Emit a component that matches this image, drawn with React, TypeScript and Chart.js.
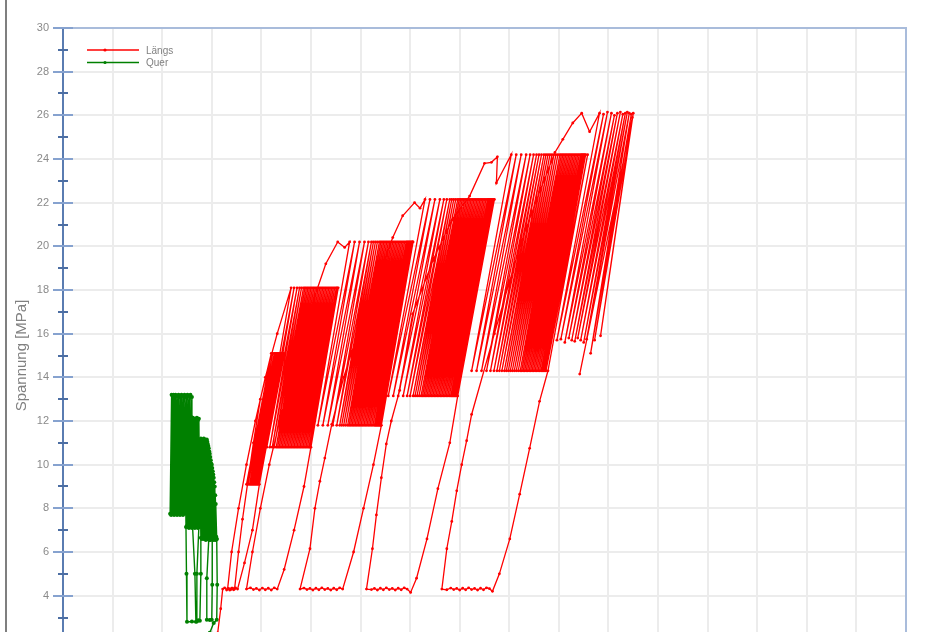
import React, { useEffect, useRef } from 'react';
import { Chart, registerables } from 'chart.js';

Chart.register(...registerables);

type P = [number, number];

// ---------- axes ----------
const dehnungMin = -150;
const dehnungMax = 700;
const dehnungStep = 50;
const spannungMin = 0;
const spannungMax = 30;
const spannungTicks = [0, 1, 2, 3, 4, 5, 6, 7, 8, 9, 10, 11, 12, 13, 14, 15, 16, 17, 18, 19, 20, 21, 22, 23, 24, 25, 26, 27, 28, 29, 30];
const yTitel = 'Spannung [MPa]';
const serienNamen = ['Längs', 'Quer'];

// ---------- Längs (red) ----------
const l0: P[] = [[0, 0], [3, 1.2], [6, 2.3], [9, 3.4], [11, 4.3], [13, 4.36], [15, 4.26], [17, 4.33], [19, 4.27], [21, 4.35], [23, 4.3], [27, 6], [31, 7.5], [36, 9.1], [42, 11], [49, 13]];
const b1aHoch = [60, 61.5, 63, 64, 65, 66, 67, 68, 69, 70, 71, 72, 72.5];
const b1aTief = [35, 36.5, 38, 39, 40, 41, 42, 43, 44, 45, 46, 47, 48];
const b1aOber = 15.1;
const b1aUnter = 9.1;

const l1: P[] = [[41, 7], [33, 5.5], [26, 4.3], [24, 4.36], [22, 4.27], [20, 4.34], [18, 4.26], [16, 4.32], [20, 6], [27, 8], [35, 10], [44, 12], [54, 14], [66, 16]];
const b1bHoch = [80, 83, 86, 88.5, 90.5, 92.5, 94, 95.5, 97, 98.5, 100, 101.5, 103, 104.5, 106, 107.5, 109, 110.5, 112, 113.5, 115, 116.5, 118, 119.5, 121, 122.5, 124, 125.5, 126.5, 127.5];
const b1bTief = [52.5, 55.5, 58.5, 61, 63, 65, 66.5, 68, 69.5, 71, 72.5, 74, 75.5, 77, 78.5, 80, 81.5, 83, 84.5, 86, 87.5, 89, 90.5, 92, 93.5, 95, 96.5, 98, 99, 100];
const b1bOber = 18.1;
const b1bUnter = 10.8;

const l2: P[] = [[93, 9], [83, 7], [73, 5.2], [66, 4.3], [63, 4.36], [60, 4.26], [57, 4.34], [54, 4.27], [51, 4.35], [48, 4.26], [45, 4.33], [42, 4.28], [39, 4.36], [35, 4.3], [41, 6], [49, 8], [58, 10], [68.5, 12], [79.5, 14], [92, 16], [106, 18], [115, 19.2], [127, 20.2], [134, 19.95]];
const b2Hoch = [139, 144, 149, 154, 158, 161, 163, 165, 167, 169, 170.5, 172, 173.5, 175, 176.5, 178, 179.5, 181, 182.5, 184, 185.5, 187, 188.5, 190, 191.5, 193, 194.5, 196, 197, 198, 199, 200, 201, 202, 202.5, 203];
const b2Tief = [107, 112, 117, 122, 126, 129, 131, 133, 135, 137, 138.5, 140, 141.5, 143, 144.5, 146, 147.5, 149, 150.5, 152, 153.5, 155, 156.5, 158, 159.5, 161, 162.5, 164, 165, 166, 167, 168, 169, 170, 170.5, 171];
const b2Ober = 20.2;
const b2Unter = 11.8;

const l3: P[] = [[163, 10], [153, 8], [143, 6], [132, 4.3], [129, 4.36], [126, 4.27], [123, 4.34], [120, 4.26], [117, 4.33], [114, 4.28], [111, 4.36], [108, 4.27], [105, 4.34], [102, 4.26], [99, 4.33], [96, 4.28], [93, 4.35], [89, 4.3], [99, 6.15], [104, 8.0], [109, 9.24], [114, 10.3], [121, 11.85], [133, 14], [147, 16], [163, 18], [182.5, 20.4], [192.5, 21.4], [204.5, 22.0], [210, 21.75]];
const b3Hoch = [215, 220, 225, 230, 234, 237, 240, 242, 244, 246, 248, 249.5, 251, 252.5, 254, 255.5, 257, 258.5, 260, 261.5, 263, 264.5, 266, 267.5, 269, 270.5, 272, 273.5, 275, 276.5, 278, 279, 280, 281, 282, 283, 284, 285];
const b3Tief = [178, 183, 188, 193, 197, 200, 203, 205, 207, 209, 211, 212.5, 214, 215.5, 217, 218.5, 220, 221.5, 223, 224.5, 226, 227.5, 229, 230.5, 232, 233.5, 235, 236.5, 238, 239.5, 241, 242, 243, 244, 245, 246, 247, 248];
const b3Ober = 22.15;
const b3Unter = 13.15;

const l4: P[] = [[240, 11], [228, 8.9], [217, 6.6], [206.5, 4.8], [200.5, 4.15], [197, 4.3], [194, 4.36], [191, 4.27], [188, 4.34], [185, 4.26], [182, 4.33], [179, 4.28], [176, 4.36], [173, 4.27], [170, 4.34], [167, 4.26], [164, 4.33], [161, 4.28], [156, 4.3], [162, 6.15], [166, 7.7], [171, 9.4], [176, 10.95], [181, 12.0], [189.5, 13.4], [202.5, 16.9], [223, 19.35], [242, 21.2], [260, 22.3], [275, 23.8], [282, 23.85], [288, 24.1], [287, 22.9]];
const b4Hoch = [302, 307, 312, 317, 321, 324.5, 327.5, 330, 332.5, 335, 337, 339, 341, 343, 345, 347, 349, 351, 352.5, 354, 355.5, 357, 358.5, 360, 361.5, 363, 364.5, 366, 367.5, 369, 370.5, 372, 373, 374, 375, 376, 377, 379];
const b4Tief = [262, 267, 272, 277, 281, 284.5, 287.5, 290, 292.5, 295, 297, 299, 301, 303, 305, 307, 309, 311, 312.5, 314, 315.5, 317, 318.5, 320, 321.5, 323, 324.5, 326, 327.5, 329, 330.5, 332, 333, 334, 335, 336, 337, 339];
const b4Ober = 24.2;
const b4Unter = 14.3;

const l5: P[] = [[330.5, 12.9], [320.5, 10.75], [310.5, 8.65], [300.5, 6.6], [290, 5.0], [283, 4.2], [280, 4.32], [277, 4.36], [274, 4.27], [271, 4.34], [268, 4.26], [265, 4.33], [262, 4.28], [259, 4.36], [256, 4.27], [253, 4.34], [250, 4.26], [247, 4.33], [244, 4.28], [241, 4.35], [237, 4.27], [232, 4.3], [237, 6.15], [242, 7.4], [247, 8.8], [252, 10.0], [257, 11.1], [262, 12.3], [285, 16], [310.5, 20], [330.5, 22.5], [346, 24.3], [354, 24.9], [364, 25.65], [373, 26.1], [381, 25.25]];
const b5Hoch = [391, 395, 399, 403, 406, 409, 412, 414.5, 417, 419, 421, 423, 425];
const b5Tief = [348, 352, 356, 360, 363, 366, 369, 372, 375, 378, 382, 386, 392];
const b5Ober = [26.1, 26.05, 26.15, 26.1, 26.0, 26.1, 26.15, 26.05, 26.1, 26.15, 26.1, 26.05, 26.1];
const b5Unter = [15.7, 15.75, 15.6, 15.8, 15.7, 15.65, 15.8, 15.7, 15.6, 15.75, 15.1, 15.7, 15.9];
const l6: P[] = [[424, 25.9], [371, 14.15]];

// ---------- Quer (green) ----------
const q0: P[] = [[-6, 0.5], [-2, 2.3], [2, 2.75], [5, 2.9], [5.5, 4.5], [5, 6.6]];
const gAHoch = [4, 3.5, 3, 2.5, 2, 1.5, 1, 0.5, 0, -0.5];
const gATief = [5, 4.5, 4, 3.5, 3, 2.5, 2, 1.5, 1, 0.5];
const gAOber = [8.2, 8.6, 9.0, 9.2, 9.4, 9.55, 9.7, 9.85, 10.0, 10.05];
const gAUnter = [6.6, 6.7, 6.55, 6.65, 6.6, 6.7, 6.55, 6.6, 6.65, 6.6];
const q1: P[] = [[0.5, 4.5], [0, 2.9], [-2, 2.88], [-5, 2.9], [-5, 4.8], [-3, 6.6]];
const gBHoch = [-1, -1.5, -2, -2.5, -3, -3.5, -4, -4.5, -5, -6, -7, -8, -9, -10, -11, -12];
const gBTief = [0, -0.5, -1, -1.5, -2, -2.5, -3, -3.5, -4, -5, -6, -7, -8, -9, -10, -11];
const gBOber = [10.2, 10.35, 10.5, 10.6, 10.75, 10.85, 10.95, 11.05, 11.15, 11.1, 11.15, 11.2, 11.1, 11.15, 11.2, 11.1];
const gBUnter = [6.6, 6.65, 6.55, 6.7, 6.6, 6.55, 6.65, 6.6, 6.7, 6.6, 6.55, 6.65, 6.6, 6.7, 6.6, 6.65];
const q2: P[] = [[-11, 5], [-12, 2.85], [-13.5, 2.87], [-15, 2.82], [-15, 5], [-13, 7.15]];
const gCHoch = [-13, -14, -15, -16, -17, -18, -19, -20, -21, -22, -23, -24, -25, -26, -27];
const gCTief = [-12, -13, -14, -15, -16, -17, -18, -19, -20, -21, -22, -23, -24, -25, -26];
const gCOber = [12.1, 12.05, 12.15, 12.1, 12.05, 12.1, 12.15, 12.1, 12.2, 12.1, 12.15, 12.1, 12.2, 12.1, 12.15];
const gCUnter = [7.15, 7.2, 7.1, 7.15, 7.25, 7.1, 7.15, 7.2, 7.1, 7.15, 7.2, 7.1, 7.15, 7.2, 7.15];
const q3: P[] = [[-25.5, 5], [-25, 2.8], [-20, 2.82], [-16, 2.8], [-17, 5], [-20, 7.75]];
const gDHoch = [-20, -21.5, -23, -24.5, -26, -27.5, -29, -30.5, -32, -33.5, -35, -36.5, -37.5, -38.5, -39.5, -40.5];
const gDTief = [-27, -28, -29, -30, -31, -32, -33, -34, -35, -36, -37, -38, -39, -40, -41, -42];
const gDOber = [13.1, 13.2, 13.15, 13.2, 13.1, 13.2, 13.15, 13.2, 13.1, 13.2, 13.15, 13.2, 13.1, 13.2, 13.15, 13.2];
const gDUnter = [7.75, 7.8, 7.7, 7.75, 7.85, 7.7, 7.75, 7.8, 7.7, 7.75, 7.8, 7.7, 7.75, 7.8, 7.7, 7.75];

// ---------- helpers building the tables ----------
const pfad = (p: P[]) => p.map(([x, y]) => ({ x, y }));
function zyklen(hoch: number[], tief: number[], ober: number | number[], unter: number | number[]) {
  const out: { x: number; y: number }[] = [];
  for (let i = 0; i < hoch.length; i++) {
    out.push({ x: hoch[i], y: Array.isArray(ober) ? ober[i] : ober });
    if (i < tief.length) out.push({ x: tief[i], y: Array.isArray(unter) ? unter[i] : unter });
  }
  return out;
}

const laengs = [
  ...pfad(l0), ...zyklen(b1aHoch, b1aTief, b1aOber, b1aUnter),
  ...pfad(l1), ...zyklen(b1bHoch, b1bTief, b1bOber, b1bUnter),
  ...pfad(l2), ...zyklen(b2Hoch, b2Tief, b2Ober, b2Unter),
  ...pfad(l3), ...zyklen(b3Hoch, b3Tief, b3Ober, b3Unter),
  ...pfad(l4), ...zyklen(b4Hoch, b4Tief, b4Ober, b4Unter),
  ...pfad(l5), ...zyklen(b5Hoch, b5Tief, b5Ober, b5Unter),
  ...pfad(l6),
];
const quer = [
  ...pfad(q0), ...zyklen(gAHoch, gATief, gAOber, gAUnter),
  ...pfad(q1), ...zyklen(gBHoch, gBTief, gBOber, gBUnter),
  ...pfad(q2), ...zyklen(gCHoch, gCTief, gCOber, gCUnter),
  ...pfad(q3), ...zyklen(gDHoch, gDTief, gDOber, gDUnter),
];

const deko = {
  id: 'deko',
  afterDraw(chart: any) {
    const { ctx, chartArea: a, scales } = chart;
    const y = scales.y;
    ctx.save();
    ctx.strokeStyle = '#a9bcdb';
    ctx.lineWidth = 2;
    ctx.beginPath();
    ctx.moveTo(a.left, a.top);
    ctx.lineTo(a.right, a.top);
    ctx.lineTo(a.right, a.bottom);
    ctx.stroke();
    for (const t of y.ticks) {
      const py = Math.round(y.getPixelForValue(t.value));
      const major = t.value % 2 === 0;
      const len = major ? 10 : 5;
      ctx.strokeStyle = major ? '#86a2cf' : '#4c6ea3';
      ctx.lineWidth = 2;
      ctx.beginPath();
      ctx.moveTo(a.left - len, py);
      ctx.lineTo(a.left + len, py);
      ctx.stroke();
    }
    chart.data.datasets.forEach((ds: any, i: number) => {
      const ly = a.top + 22 + i * 12.5;
      ctx.strokeStyle = ds.borderColor;
      ctx.lineWidth = 1.5;
      ctx.beginPath();
      ctx.moveTo(a.left + 24, ly);
      ctx.lineTo(a.left + 76, ly);
      ctx.stroke();
      ctx.fillStyle = ds.borderColor;
      ctx.beginPath();
      ctx.arc(a.left + 42, ly, 1.6, 0, Math.PI * 2);
      ctx.fill();
      ctx.fillStyle = '#808080';
      ctx.font = '10px "Liberation Sans", Arial, sans-serif';
      ctx.textBaseline = 'middle';
      ctx.textAlign = 'left';
      ctx.fillText(ds.label, a.left + 83, ly + 1);
    });
    ctx.restore();
  },
};

export default function App() {
  const ref = useRef<HTMLCanvasElement | null>(null);
  useEffect(() => {
    if (!ref.current) return;
    const chart = new Chart(ref.current, {
      type: 'line',
      data: {
        datasets: [
          {
            label: serienNamen[0],
            data: laengs,
            borderColor: '#ff0000',
            backgroundColor: '#ff0000',
            borderWidth: 1.3,
            pointRadius: 1.4,
            pointBorderWidth: 0,
            pointBackgroundColor: '#ff0000',
            tension: 0,
            fill: false,
          },
          {
            label: serienNamen[1],
            data: quer,
            borderColor: '#008000',
            backgroundColor: '#008000',
            borderWidth: 1.4,
            pointRadius: 2,
            pointBorderWidth: 0,
            pointBackgroundColor: '#008000',
            tension: 0,
            fill: false,
          },
        ],
      },
      options: {
        responsive: false,
        animation: false,
        parsing: false as any,
        layout: { padding: { top: 28, right: 38, left: 0, bottom: 0 } },
        plugins: { legend: { display: false }, tooltip: { enabled: false } },
        scales: {
          x: {
            type: 'linear',
            min: dehnungMin,
            max: dehnungMax,
            ticks: { display: false, stepSize: dehnungStep },
            grid: { color: '#ececec', lineWidth: 2, drawTicks: false },
            border: { display: false },
          },
          y: {
            type: 'linear',
            min: spannungMin,
            max: spannungMax,
            afterBuildTicks: (s: any) => { s.ticks = spannungTicks.map((v) => ({ value: v })); },
            afterFit: (s: any) => { s.width = 63; s.paddingTop = 0; s.paddingBottom = 0; },
            ticks: {
              autoSkip: false,
              padding: 14,
              color: '#8a8a8a',
              font: { family: '"Liberation Sans", Arial, sans-serif', size: 11 },
              callback: (v: any) => (Number(v) % 2 === 0 ? String(v) : ''),
            },
            grid: {
              drawTicks: false,
              lineWidth: 2,
              color: (c: any) => (c.tick && c.tick.value % 2 === 0 ? '#ececec' : 'rgba(0,0,0,0)'),
            },
            border: { display: true, color: '#5a7cb1', width: 2 },
            title: {
              display: true,
              text: yTitel,
              color: '#808080',
              font: { family: '"Liberation Sans", Arial, sans-serif', size: 15 },
              padding: { top: 13, bottom: 0 },
            },
          },
        },
      },
      plugins: [deko],
    });
    return () => chart.destroy();
  }, []);

  return (
    <div style={{ position: 'fixed', left: 0, top: 0, width: 944, height: 632, overflow: 'hidden', background: '#fff' }}>
      <canvas ref={ref} width={944} height={687} style={{ display: 'block' }} />
      <div style={{ position: 'absolute', left: 5, top: 0, width: 2, height: 632, background: '#7f7f7f' }} />
    </div>
  );
}
